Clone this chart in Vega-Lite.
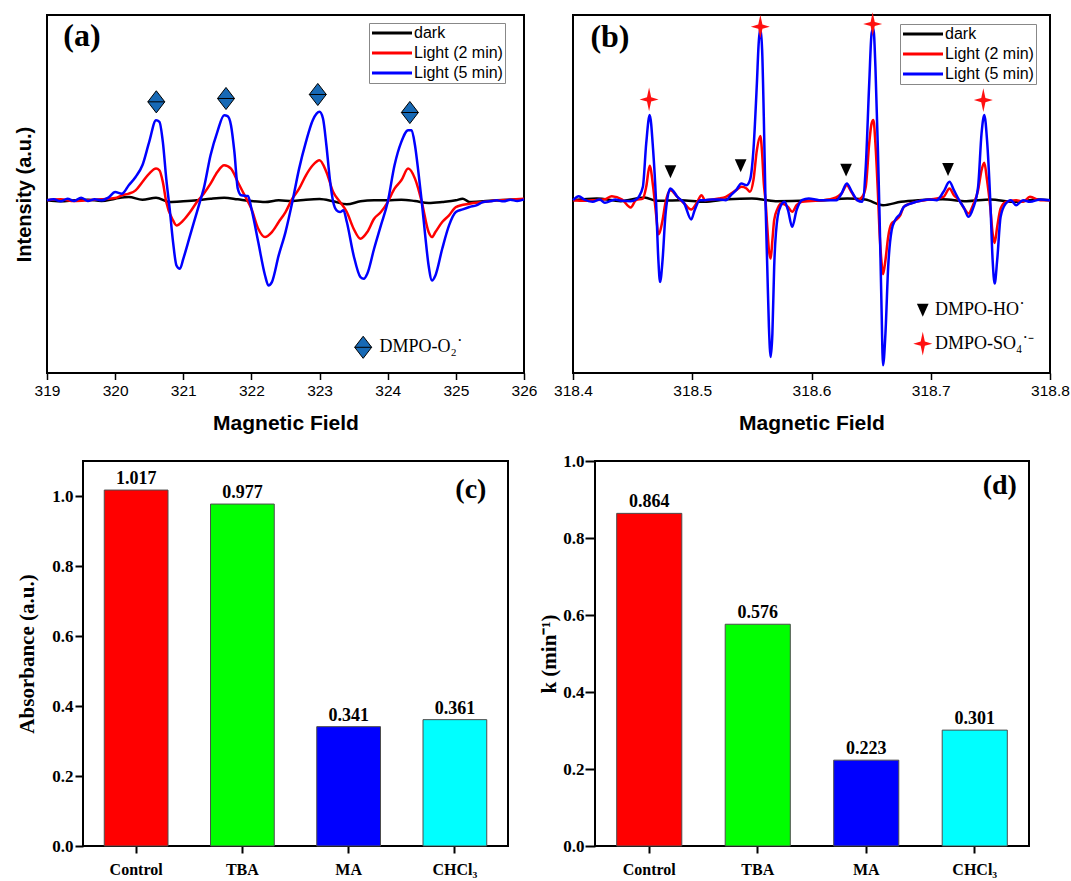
{
  "$schema": "https://vega.github.io/schema/vega-lite/v6.json",
  "background": "white",
  "padding": {"left": 5, "top": 11, "right": 0, "bottom": 0},
  "config": {
    "view": {"stroke": "black", "strokeWidth": 2},
    "axis": {"labelColor": "black", "titleColor": "black", "tickColor": "black", "grid": false, "domain": false}
  },
  "resolve": {"scale": {"color": "independent"}, "legend": {"color": "independent"}},
  "datasets": {
    "a_curves": [
      {"series": "dark", "field": 319, "intensity": 0}, {"series": "dark", "field": 319.2, "intensity": -3}, {"series": "dark", "field": 319.4, "intensity": 0}, {"series": "dark", "field": 319.6, "intensity": 2}, {"series": "dark", "field": 319.8, "intensity": -2}, {"series": "dark", "field": 320, "intensity": 5}, {"series": "dark", "field": 320.2, "intensity": 10}, {"series": "dark", "field": 320.4, "intensity": 2}, {"series": "dark", "field": 320.6, "intensity": 8}, {"series": "dark", "field": 320.8, "intensity": -5}, {"series": "dark", "field": 321, "intensity": -3}, {"series": "dark", "field": 321.2, "intensity": 0}, {"series": "dark", "field": 321.4, "intensity": 5}, {"series": "dark", "field": 321.6, "intensity": 8}, {"series": "dark", "field": 321.8, "intensity": 3}, {"series": "dark", "field": 322, "intensity": -2}, {"series": "dark", "field": 322.2, "intensity": -5}, {"series": "dark", "field": 322.4, "intensity": 0}, {"series": "dark", "field": 322.6, "intensity": -2}, {"series": "dark", "field": 322.8, "intensity": 2}, {"series": "dark", "field": 323, "intensity": 4}, {"series": "dark", "field": 323.2, "intensity": -3}, {"series": "dark", "field": 323.4, "intensity": -12}, {"series": "dark", "field": 323.6, "intensity": -3}, {"series": "dark", "field": 323.8, "intensity": 0}, {"series": "dark", "field": 324, "intensity": 0}, {"series": "dark", "field": 324.2, "intensity": 2}, {"series": "dark", "field": 324.4, "intensity": -2}, {"series": "dark", "field": 324.6, "intensity": -8}, {"series": "dark", "field": 324.8, "intensity": -5}, {"series": "dark", "field": 325, "intensity": 0}, {"series": "dark", "field": 325.1, "intensity": 5}, {"series": "dark", "field": 325.2, "intensity": -5}, {"series": "dark", "field": 325.4, "intensity": -3}, {"series": "dark", "field": 325.6, "intensity": 0}, {"series": "dark", "field": 325.8, "intensity": 2}, {"series": "dark", "field": 326, "intensity": 3},
      {"series": "Light (2 min)", "field": 319, "intensity": 0}, {"series": "Light (2 min)", "field": 319.2, "intensity": 3}, {"series": "Light (2 min)", "field": 319.4, "intensity": -2}, {"series": "Light (2 min)", "field": 319.6, "intensity": 0}, {"series": "Light (2 min)", "field": 319.8, "intensity": 3}, {"series": "Light (2 min)", "field": 320, "intensity": 7}, {"series": "Light (2 min)", "field": 320.1, "intensity": 15}, {"series": "Light (2 min)", "field": 320.2, "intensity": 20}, {"series": "Light (2 min)", "field": 320.3, "intensity": 30}, {"series": "Light (2 min)", "field": 320.4, "intensity": 55}, {"series": "Light (2 min)", "field": 320.5, "intensity": 80}, {"series": "Light (2 min)", "field": 320.6, "intensity": 95}, {"series": "Light (2 min)", "field": 320.65, "intensity": 90}, {"series": "Light (2 min)", "field": 320.7, "intensity": 55}, {"series": "Light (2 min)", "field": 320.75, "intensity": -5}, {"series": "Light (2 min)", "field": 320.85, "intensity": -60}, {"series": "Light (2 min)", "field": 320.9, "intensity": -75}, {"series": "Light (2 min)", "field": 321, "intensity": -60}, {"series": "Light (2 min)", "field": 321.1, "intensity": -35}, {"series": "Light (2 min)", "field": 321.2, "intensity": -5}, {"series": "Light (2 min)", "field": 321.3, "intensity": 20}, {"series": "Light (2 min)", "field": 321.4, "intensity": 50}, {"series": "Light (2 min)", "field": 321.5, "intensity": 85}, {"series": "Light (2 min)", "field": 321.6, "intensity": 105}, {"series": "Light (2 min)", "field": 321.7, "intensity": 95}, {"series": "Light (2 min)", "field": 321.8, "intensity": 55}, {"series": "Light (2 min)", "field": 321.9, "intensity": 15}, {"series": "Light (2 min)", "field": 322, "intensity": -25}, {"series": "Light (2 min)", "field": 322.1, "intensity": -85}, {"series": "Light (2 min)", "field": 322.2, "intensity": -110}, {"series": "Light (2 min)", "field": 322.3, "intensity": -95}, {"series": "Light (2 min)", "field": 322.4, "intensity": -65}, {"series": "Light (2 min)", "field": 322.5, "intensity": -35}, {"series": "Light (2 min)", "field": 322.6, "intensity": 5}, {"series": "Light (2 min)", "field": 322.7, "intensity": 35}, {"series": "Light (2 min)", "field": 322.8, "intensity": 75}, {"series": "Light (2 min)", "field": 322.9, "intensity": 105}, {"series": "Light (2 min)", "field": 323, "intensity": 120}, {"series": "Light (2 min)", "field": 323.1, "intensity": 85}, {"series": "Light (2 min)", "field": 323.2, "intensity": 25}, {"series": "Light (2 min)", "field": 323.3, "intensity": -5}, {"series": "Light (2 min)", "field": 323.4, "intensity": -35}, {"series": "Light (2 min)", "field": 323.5, "intensity": -85}, {"series": "Light (2 min)", "field": 323.6, "intensity": -115}, {"series": "Light (2 min)", "field": 323.7, "intensity": -95}, {"series": "Light (2 min)", "field": 323.8, "intensity": -55}, {"series": "Light (2 min)", "field": 323.9, "intensity": -35}, {"series": "Light (2 min)", "field": 324, "intensity": -5}, {"series": "Light (2 min)", "field": 324.1, "intensity": 35}, {"series": "Light (2 min)", "field": 324.2, "intensity": 60}, {"series": "Light (2 min)", "field": 324.3, "intensity": 95}, {"series": "Light (2 min)", "field": 324.4, "intensity": 65}, {"series": "Light (2 min)", "field": 324.5, "intensity": -5}, {"series": "Light (2 min)", "field": 324.6, "intensity": -95}, {"series": "Light (2 min)", "field": 324.65, "intensity": -110}, {"series": "Light (2 min)", "field": 324.7, "intensity": -95}, {"series": "Light (2 min)", "field": 324.8, "intensity": -65}, {"series": "Light (2 min)", "field": 324.9, "intensity": -45}, {"series": "Light (2 min)", "field": 325, "intensity": -20}, {"series": "Light (2 min)", "field": 325.2, "intensity": -10}, {"series": "Light (2 min)", "field": 325.4, "intensity": -5}, {"series": "Light (2 min)", "field": 325.6, "intensity": 0}, {"series": "Light (2 min)", "field": 325.8, "intensity": 2}, {"series": "Light (2 min)", "field": 326, "intensity": 5},
      {"series": "Light (5 min)", "field": 319, "intensity": 0}, {"series": "Light (5 min)", "field": 319.1, "intensity": 3}, {"series": "Light (5 min)", "field": 319.2, "intensity": -3}, {"series": "Light (5 min)", "field": 319.3, "intensity": 5}, {"series": "Light (5 min)", "field": 319.4, "intensity": -2}, {"series": "Light (5 min)", "field": 319.5, "intensity": 8}, {"series": "Light (5 min)", "field": 319.6, "intensity": -2}, {"series": "Light (5 min)", "field": 319.7, "intensity": 3}, {"series": "Light (5 min)", "field": 319.8, "intensity": 0}, {"series": "Light (5 min)", "field": 319.9, "intensity": 8}, {"series": "Light (5 min)", "field": 320, "intensity": 25}, {"series": "Light (5 min)", "field": 320.1, "intensity": 20}, {"series": "Light (5 min)", "field": 320.2, "intensity": 45}, {"series": "Light (5 min)", "field": 320.3, "intensity": 70}, {"series": "Light (5 min)", "field": 320.4, "intensity": 105}, {"series": "Light (5 min)", "field": 320.5, "intensity": 175}, {"series": "Light (5 min)", "field": 320.6, "intensity": 240}, {"series": "Light (5 min)", "field": 320.65, "intensity": 235}, {"series": "Light (5 min)", "field": 320.7, "intensity": 175}, {"series": "Light (5 min)", "field": 320.75, "intensity": 65}, {"series": "Light (5 min)", "field": 320.8, "intensity": -25}, {"series": "Light (5 min)", "field": 320.85, "intensity": -125}, {"series": "Light (5 min)", "field": 320.9, "intensity": -195}, {"series": "Light (5 min)", "field": 320.95, "intensity": -205}, {"series": "Light (5 min)", "field": 321, "intensity": -175}, {"series": "Light (5 min)", "field": 321.1, "intensity": -105}, {"series": "Light (5 min)", "field": 321.2, "intensity": -35}, {"series": "Light (5 min)", "field": 321.25, "intensity": 0}, {"series": "Light (5 min)", "field": 321.3, "intensity": 35}, {"series": "Light (5 min)", "field": 321.4, "intensity": 135}, {"series": "Light (5 min)", "field": 321.5, "intensity": 205}, {"series": "Light (5 min)", "field": 321.6, "intensity": 255}, {"series": "Light (5 min)", "field": 321.65, "intensity": 252}, {"series": "Light (5 min)", "field": 321.7, "intensity": 225}, {"series": "Light (5 min)", "field": 321.75, "intensity": 145}, {"series": "Light (5 min)", "field": 321.8, "intensity": 35}, {"series": "Light (5 min)", "field": 321.85, "intensity": 15}, {"series": "Light (5 min)", "field": 321.95, "intensity": 13}, {"series": "Light (5 min)", "field": 322, "intensity": -25}, {"series": "Light (5 min)", "field": 322.1, "intensity": -125}, {"series": "Light (5 min)", "field": 322.2, "intensity": -225}, {"series": "Light (5 min)", "field": 322.25, "intensity": -255}, {"series": "Light (5 min)", "field": 322.3, "intensity": -245}, {"series": "Light (5 min)", "field": 322.4, "intensity": -165}, {"series": "Light (5 min)", "field": 322.5, "intensity": -95}, {"series": "Light (5 min)", "field": 322.6, "intensity": -5}, {"series": "Light (5 min)", "field": 322.7, "intensity": 95}, {"series": "Light (5 min)", "field": 322.8, "intensity": 175}, {"series": "Light (5 min)", "field": 322.9, "intensity": 240}, {"series": "Light (5 min)", "field": 323, "intensity": 265}, {"series": "Light (5 min)", "field": 323.05, "intensity": 245}, {"series": "Light (5 min)", "field": 323.1, "intensity": 165}, {"series": "Light (5 min)", "field": 323.15, "intensity": 65}, {"series": "Light (5 min)", "field": 323.2, "intensity": -5}, {"series": "Light (5 min)", "field": 323.25, "intensity": -30}, {"series": "Light (5 min)", "field": 323.3, "intensity": -35}, {"series": "Light (5 min)", "field": 323.35, "intensity": -30}, {"series": "Light (5 min)", "field": 323.4, "intensity": -65}, {"series": "Light (5 min)", "field": 323.5, "intensity": -165}, {"series": "Light (5 min)", "field": 323.6, "intensity": -230}, {"series": "Light (5 min)", "field": 323.65, "intensity": -235}, {"series": "Light (5 min)", "field": 323.7, "intensity": -220}, {"series": "Light (5 min)", "field": 323.8, "intensity": -145}, {"series": "Light (5 min)", "field": 323.9, "intensity": -75}, {"series": "Light (5 min)", "field": 324, "intensity": -5}, {"series": "Light (5 min)", "field": 324.1, "intensity": 105}, {"series": "Light (5 min)", "field": 324.2, "intensity": 175}, {"series": "Light (5 min)", "field": 324.3, "intensity": 210}, {"series": "Light (5 min)", "field": 324.35, "intensity": 210}, {"series": "Light (5 min)", "field": 324.4, "intensity": 165}, {"series": "Light (5 min)", "field": 324.45, "intensity": 85}, {"series": "Light (5 min)", "field": 324.5, "intensity": -5}, {"series": "Light (5 min)", "field": 324.55, "intensity": -105}, {"series": "Light (5 min)", "field": 324.6, "intensity": -195}, {"series": "Light (5 min)", "field": 324.65, "intensity": -240}, {"series": "Light (5 min)", "field": 324.7, "intensity": -225}, {"series": "Light (5 min)", "field": 324.8, "intensity": -145}, {"series": "Light (5 min)", "field": 324.9, "intensity": -75}, {"series": "Light (5 min)", "field": 325, "intensity": -35}, {"series": "Light (5 min)", "field": 325.1, "intensity": -27}, {"series": "Light (5 min)", "field": 325.2, "intensity": -20}, {"series": "Light (5 min)", "field": 325.3, "intensity": -15}, {"series": "Light (5 min)", "field": 325.4, "intensity": -5}, {"series": "Light (5 min)", "field": 325.5, "intensity": -3}, {"series": "Light (5 min)", "field": 325.6, "intensity": 0}, {"series": "Light (5 min)", "field": 325.7, "intensity": -3}, {"series": "Light (5 min)", "field": 325.8, "intensity": 2}, {"series": "Light (5 min)", "field": 325.9, "intensity": -2}, {"series": "Light (5 min)", "field": 326, "intensity": 3}
    ],
    "a_diamonds": [
      {"field": 320.604, "intensity": 295}, {"field": 321.627, "intensity": 305}, {"field": 322.974, "intensity": 317}, {"field": 324.325, "intensity": 263}, {"field": 323.64, "intensity": -440}
    ],
    "a_notes": [{"field": 323.88, "intensity": -440, "label": "DMPO-O₂˙"}],
    "a_tag": [{"field": 319.514, "intensity": 492, "label": "(a)"}],
    "b_curves": [
      {"series": "dark", "field": 318.4, "intensity": 0}, {"series": "dark", "field": 318.42, "intensity": 5}, {"series": "dark", "field": 318.44, "intensity": -3}, {"series": "dark", "field": 318.46, "intensity": 8}, {"series": "dark", "field": 318.47, "intensity": -2}, {"series": "dark", "field": 318.49, "intensity": 0}, {"series": "dark", "field": 318.51, "intensity": -5}, {"series": "dark", "field": 318.53, "intensity": 3}, {"series": "dark", "field": 318.55, "intensity": 5}, {"series": "dark", "field": 318.57, "intensity": -3}, {"series": "dark", "field": 318.59, "intensity": -2}, {"series": "dark", "field": 318.61, "intensity": 0}, {"series": "dark", "field": 318.63, "intensity": 5}, {"series": "dark", "field": 318.645, "intensity": 2}, {"series": "dark", "field": 318.66, "intensity": -15}, {"series": "dark", "field": 318.675, "intensity": -5}, {"series": "dark", "field": 318.69, "intensity": 0}, {"series": "dark", "field": 318.71, "intensity": 3}, {"series": "dark", "field": 318.73, "intensity": -3}, {"series": "dark", "field": 318.75, "intensity": 2}, {"series": "dark", "field": 318.77, "intensity": -5}, {"series": "dark", "field": 318.79, "intensity": 2}, {"series": "dark", "field": 318.8, "intensity": 0},
      {"series": "Light (2 min)", "field": 318.4, "intensity": 0}, {"series": "Light (2 min)", "field": 318.4093, "intensity": -2}, {"series": "Light (2 min)", "field": 318.4165, "intensity": 0}, {"series": "Light (2 min)", "field": 318.4267, "intensity": 3}, {"series": "Light (2 min)", "field": 318.4325, "intensity": 12}, {"series": "Light (2 min)", "field": 318.4412, "intensity": 2}, {"series": "Light (2 min)", "field": 318.4484, "intensity": -22}, {"series": "Light (2 min)", "field": 318.4528, "intensity": 0}, {"series": "Light (2 min)", "field": 318.4586, "intensity": 5}, {"series": "Light (2 min)", "field": 318.4614, "intensity": 40}, {"series": "Light (2 min)", "field": 318.4643, "intensity": 103}, {"series": "Light (2 min)", "field": 318.4672, "intensity": 40}, {"series": "Light (2 min)", "field": 318.4696, "intensity": -40}, {"series": "Light (2 min)", "field": 318.4716, "intensity": -102}, {"series": "Light (2 min)", "field": 318.4751, "intensity": -60}, {"series": "Light (2 min)", "field": 318.4774, "intensity": -10}, {"series": "Light (2 min)", "field": 318.4817, "intensity": 30}, {"series": "Light (2 min)", "field": 318.4875, "intensity": 10}, {"series": "Light (2 min)", "field": 318.4933, "intensity": -10}, {"series": "Light (2 min)", "field": 318.4991, "intensity": -28}, {"series": "Light (2 min)", "field": 318.5035, "intensity": -10}, {"series": "Light (2 min)", "field": 318.5078, "intensity": 15}, {"series": "Light (2 min)", "field": 318.5107, "intensity": 0}, {"series": "Light (2 min)", "field": 318.5223, "intensity": 5}, {"series": "Light (2 min)", "field": 318.5281, "intensity": 10}, {"series": "Light (2 min)", "field": 318.5368, "intensity": 30}, {"series": "Light (2 min)", "field": 318.5412, "intensity": 40}, {"series": "Light (2 min)", "field": 318.5455, "intensity": 35}, {"series": "Light (2 min)", "field": 318.5484, "intensity": 25}, {"series": "Light (2 min)", "field": 318.5513, "intensity": 60}, {"series": "Light (2 min)", "field": 318.5542, "intensity": 150}, {"series": "Light (2 min)", "field": 318.5571, "intensity": 192}, {"series": "Light (2 min)", "field": 318.5586, "intensity": 140}, {"series": "Light (2 min)", "field": 318.56, "intensity": 50}, {"series": "Light (2 min)", "field": 318.5614, "intensity": 0}, {"series": "Light (2 min)", "field": 318.5629, "intensity": -80}, {"series": "Light (2 min)", "field": 318.5643, "intensity": -150}, {"series": "Light (2 min)", "field": 318.5658, "intensity": -175}, {"series": "Light (2 min)", "field": 318.5672, "intensity": -120}, {"series": "Light (2 min)", "field": 318.5687, "intensity": -60}, {"series": "Light (2 min)", "field": 318.5716, "intensity": -25}, {"series": "Light (2 min)", "field": 318.5745, "intensity": -10}, {"series": "Light (2 min)", "field": 318.5803, "intensity": -20}, {"series": "Light (2 min)", "field": 318.5838, "intensity": -35}, {"series": "Light (2 min)", "field": 318.5875, "intensity": -15}, {"series": "Light (2 min)", "field": 318.5919, "intensity": -5}, {"series": "Light (2 min)", "field": 318.6151, "intensity": 2}, {"series": "Light (2 min)", "field": 318.6252, "intensity": 20}, {"series": "Light (2 min)", "field": 318.6296, "intensity": 45}, {"series": "Light (2 min)", "field": 318.6339, "intensity": 22}, {"series": "Light (2 min)", "field": 318.6383, "intensity": 0}, {"series": "Light (2 min)", "field": 318.6426, "intensity": 10}, {"series": "Light (2 min)", "field": 318.6455, "intensity": 40}, {"series": "Light (2 min)", "field": 318.6484, "intensity": 170}, {"series": "Light (2 min)", "field": 318.6504, "intensity": 230}, {"series": "Light (2 min)", "field": 318.6519, "intensity": 240}, {"series": "Light (2 min)", "field": 318.6536, "intensity": 170}, {"series": "Light (2 min)", "field": 318.6557, "intensity": 20}, {"series": "Light (2 min)", "field": 318.6571, "intensity": -100}, {"series": "Light (2 min)", "field": 318.6586, "intensity": -180}, {"series": "Light (2 min)", "field": 318.66, "intensity": -222}, {"series": "Light (2 min)", "field": 318.662, "intensity": -180}, {"series": "Light (2 min)", "field": 318.6643, "intensity": -110}, {"series": "Light (2 min)", "field": 318.6672, "intensity": -70}, {"series": "Light (2 min)", "field": 318.6701, "intensity": -62}, {"series": "Light (2 min)", "field": 318.6745, "intensity": -45}, {"series": "Light (2 min)", "field": 318.6774, "intensity": -20}, {"series": "Light (2 min)", "field": 318.6875, "intensity": -5}, {"series": "Light (2 min)", "field": 318.6991, "intensity": 2}, {"series": "Light (2 min)", "field": 318.7107, "intensity": 10}, {"series": "Light (2 min)", "field": 318.7157, "intensity": 35}, {"series": "Light (2 min)", "field": 318.7194, "intensity": 15}, {"series": "Light (2 min)", "field": 318.7238, "intensity": 0}, {"series": "Light (2 min)", "field": 318.7281, "intensity": -25}, {"series": "Light (2 min)", "field": 318.7316, "intensity": -40}, {"series": "Light (2 min)", "field": 318.7354, "intensity": -15}, {"series": "Light (2 min)", "field": 318.7397, "intensity": 30}, {"series": "Light (2 min)", "field": 318.7426, "intensity": 90}, {"series": "Light (2 min)", "field": 318.7449, "intensity": 112}, {"series": "Light (2 min)", "field": 318.7472, "intensity": 60}, {"series": "Light (2 min)", "field": 318.7499, "intensity": -20}, {"series": "Light (2 min)", "field": 318.7519, "intensity": -100}, {"series": "Light (2 min)", "field": 318.7536, "intensity": -128}, {"series": "Light (2 min)", "field": 318.7557, "intensity": -80}, {"series": "Light (2 min)", "field": 318.7586, "intensity": -25}, {"series": "Light (2 min)", "field": 318.7629, "intensity": -5}, {"series": "Light (2 min)", "field": 318.7716, "intensity": 0}, {"series": "Light (2 min)", "field": 318.7774, "intensity": -5}, {"series": "Light (2 min)", "field": 318.7832, "intensity": 10}, {"series": "Light (2 min)", "field": 318.7919, "intensity": 0}, {"series": "Light (2 min)", "field": 318.8, "intensity": 0},
      {"series": "Light (5 min)", "field": 318.4, "intensity": 0}, {"series": "Light (5 min)", "field": 318.4049, "intensity": 12}, {"series": "Light (5 min)", "field": 318.4093, "intensity": 2}, {"series": "Light (5 min)", "field": 318.4165, "intensity": -5}, {"series": "Light (5 min)", "field": 318.4223, "intensity": 2}, {"series": "Light (5 min)", "field": 318.4267, "intensity": -8}, {"series": "Light (5 min)", "field": 318.4354, "intensity": 2}, {"series": "Light (5 min)", "field": 318.4412, "intensity": -2}, {"series": "Light (5 min)", "field": 318.4484, "intensity": -3}, {"series": "Light (5 min)", "field": 318.4528, "intensity": 2}, {"series": "Light (5 min)", "field": 318.4551, "intensity": 10}, {"series": "Light (5 min)", "field": 318.4586, "intensity": 40}, {"series": "Light (5 min)", "field": 318.4614, "intensity": 170}, {"series": "Light (5 min)", "field": 318.4643, "intensity": 255}, {"series": "Light (5 min)", "field": 318.4672, "intensity": 150}, {"series": "Light (5 min)", "field": 318.4696, "intensity": 0}, {"series": "Light (5 min)", "field": 318.4716, "intensity": -180}, {"series": "Light (5 min)", "field": 318.473, "intensity": -245}, {"series": "Light (5 min)", "field": 318.4751, "intensity": -180}, {"series": "Light (5 min)", "field": 318.4774, "intensity": -50}, {"series": "Light (5 min)", "field": 318.4794, "intensity": 10}, {"series": "Light (5 min)", "field": 318.4817, "intensity": 35}, {"series": "Light (5 min)", "field": 318.4846, "intensity": 25}, {"series": "Light (5 min)", "field": 318.4875, "intensity": 10}, {"series": "Light (5 min)", "field": 318.4933, "intensity": -10}, {"series": "Light (5 min)", "field": 318.4991, "intensity": -58}, {"series": "Light (5 min)", "field": 318.502, "intensity": -30}, {"series": "Light (5 min)", "field": 318.5064, "intensity": 0}, {"series": "Light (5 min)", "field": 318.5107, "intensity": 0}, {"series": "Light (5 min)", "field": 318.5165, "intensity": 2}, {"series": "Light (5 min)", "field": 318.5223, "intensity": 2}, {"series": "Light (5 min)", "field": 318.5281, "intensity": 0}, {"series": "Light (5 min)", "field": 318.5325, "intensity": 15}, {"series": "Light (5 min)", "field": 318.5368, "intensity": 30}, {"series": "Light (5 min)", "field": 318.5412, "intensity": 50}, {"series": "Light (5 min)", "field": 318.5455, "intensity": 45}, {"series": "Light (5 min)", "field": 318.5484, "intensity": 60}, {"series": "Light (5 min)", "field": 318.5513, "intensity": 150}, {"series": "Light (5 min)", "field": 318.5542, "intensity": 350}, {"series": "Light (5 min)", "field": 318.5557, "intensity": 470}, {"series": "Light (5 min)", "field": 318.5571, "intensity": 515}, {"series": "Light (5 min)", "field": 318.5586, "intensity": 450}, {"series": "Light (5 min)", "field": 318.56, "intensity": 250}, {"series": "Light (5 min)", "field": 318.5614, "intensity": 0}, {"series": "Light (5 min)", "field": 318.5629, "intensity": -200}, {"series": "Light (5 min)", "field": 318.5643, "intensity": -380}, {"series": "Light (5 min)", "field": 318.5658, "intensity": -470}, {"series": "Light (5 min)", "field": 318.5672, "intensity": -400}, {"series": "Light (5 min)", "field": 318.5687, "intensity": -200}, {"series": "Light (5 min)", "field": 318.5716, "intensity": -50}, {"series": "Light (5 min)", "field": 318.5745, "intensity": -15}, {"series": "Light (5 min)", "field": 318.5774, "intensity": -5}, {"series": "Light (5 min)", "field": 318.5803, "intensity": -30}, {"series": "Light (5 min)", "field": 318.5838, "intensity": -80}, {"series": "Light (5 min)", "field": 318.5875, "intensity": -30}, {"series": "Light (5 min)", "field": 318.5919, "intensity": 0}, {"series": "Light (5 min)", "field": 318.5977, "intensity": 5}, {"series": "Light (5 min)", "field": 318.6064, "intensity": 0}, {"series": "Light (5 min)", "field": 318.6151, "intensity": 0}, {"series": "Light (5 min)", "field": 318.6209, "intensity": 0}, {"series": "Light (5 min)", "field": 318.6252, "intensity": 20}, {"series": "Light (5 min)", "field": 318.6296, "intensity": 50}, {"series": "Light (5 min)", "field": 318.6339, "intensity": 25}, {"series": "Light (5 min)", "field": 318.6383, "intensity": 0}, {"series": "Light (5 min)", "field": 318.6426, "intensity": -5}, {"series": "Light (5 min)", "field": 318.6455, "intensity": 100}, {"series": "Light (5 min)", "field": 318.6484, "intensity": 350}, {"series": "Light (5 min)", "field": 318.6504, "intensity": 500}, {"series": "Light (5 min)", "field": 318.6519, "intensity": 515}, {"series": "Light (5 min)", "field": 318.6536, "intensity": 400}, {"series": "Light (5 min)", "field": 318.6557, "intensity": 150}, {"series": "Light (5 min)", "field": 318.6571, "intensity": -50}, {"series": "Light (5 min)", "field": 318.6586, "intensity": -300}, {"series": "Light (5 min)", "field": 318.66, "intensity": -495}, {"series": "Light (5 min)", "field": 318.662, "intensity": -400}, {"series": "Light (5 min)", "field": 318.6643, "intensity": -200}, {"series": "Light (5 min)", "field": 318.6672, "intensity": -90}, {"series": "Light (5 min)", "field": 318.6701, "intensity": -60}, {"series": "Light (5 min)", "field": 318.6745, "intensity": -40}, {"series": "Light (5 min)", "field": 318.6774, "intensity": -20}, {"series": "Light (5 min)", "field": 318.6817, "intensity": -12}, {"series": "Light (5 min)", "field": 318.6875, "intensity": -5}, {"series": "Light (5 min)", "field": 318.6933, "intensity": 0}, {"series": "Light (5 min)", "field": 318.6991, "intensity": 2}, {"series": "Light (5 min)", "field": 318.7049, "intensity": 0}, {"series": "Light (5 min)", "field": 318.7107, "intensity": 25}, {"series": "Light (5 min)", "field": 318.7157, "intensity": 55}, {"series": "Light (5 min)", "field": 318.7194, "intensity": 30}, {"series": "Light (5 min)", "field": 318.7238, "intensity": 0}, {"series": "Light (5 min)", "field": 318.7281, "intensity": -25}, {"series": "Light (5 min)", "field": 318.7316, "intensity": -50}, {"series": "Light (5 min)", "field": 318.7354, "intensity": -25}, {"series": "Light (5 min)", "field": 318.7397, "intensity": 40}, {"series": "Light (5 min)", "field": 318.7426, "intensity": 200}, {"series": "Light (5 min)", "field": 318.7449, "intensity": 255}, {"series": "Light (5 min)", "field": 318.7472, "intensity": 180}, {"series": "Light (5 min)", "field": 318.7499, "intensity": 0}, {"series": "Light (5 min)", "field": 318.7519, "intensity": -180}, {"series": "Light (5 min)", "field": 318.7536, "intensity": -250}, {"series": "Light (5 min)", "field": 318.7557, "intensity": -180}, {"series": "Light (5 min)", "field": 318.7586, "intensity": -50}, {"series": "Light (5 min)", "field": 318.7629, "intensity": -10}, {"series": "Light (5 min)", "field": 318.7672, "intensity": 0}, {"series": "Light (5 min)", "field": 318.7716, "intensity": -15}, {"series": "Light (5 min)", "field": 318.7774, "intensity": 0}, {"series": "Light (5 min)", "field": 318.7832, "intensity": -5}, {"series": "Light (5 min)", "field": 318.7919, "intensity": 2}, {"series": "Light (5 min)", "field": 318.8, "intensity": 0}
    ],
    "b_stars": [
      {"field": 318.4638, "intensity": 302}, {"field": 318.5571, "intensity": 520}, {"field": 318.6513, "intensity": 528}, {"field": 318.7441, "intensity": 300}, {"field": 318.6933, "intensity": -430}
    ],
    "b_triangles": [
      {"field": 318.4817, "intensity": 85}, {"field": 318.5406, "intensity": 103}, {"field": 318.629, "intensity": 90}, {"field": 318.7145, "intensity": 92}, {"field": 318.6933, "intensity": -330}
    ],
    "b_notes": [
      {"field": 318.7035, "intensity": -330, "label": "DMPO-HO˙"},
      {"field": 318.7035, "intensity": -430, "label": "DMPO-SO₄˙⁻"}
    ],
    "b_tag": [{"field": 318.431, "intensity": 488, "label": "(b)"}],
    "bars_c": [
      {"scavenger": "Control", "value": 1.017}, {"scavenger": "TBA", "value": 0.977}, {"scavenger": "MA", "value": 0.341}, {"scavenger": "CHCl₃", "value": 0.361}
    ],
    "c_tag": [{"scavenger": "CHCl₃", "value": 1.017, "label": "(c)"}],
    "bars_d": [
      {"scavenger": "Control", "value": 0.864}, {"scavenger": "TBA", "value": 0.576}, {"scavenger": "MA", "value": 0.223}, {"scavenger": "CHCl₃", "value": 0.301}
    ],
    "d_tag": [{"scavenger": "CHCl₃", "value": 0.936, "label": "(d)"}],
    "empty": []
  },
  "spacing": 17,
  "vconcat": [
    {
      "spacing": 0,
      "align": "none",
      "resolve": {"scale": {"color": "independent"}, "legend": {"color": "independent"}},
      "hconcat": [
        {"width": 8, "height": 1, "data": {"name": "empty"}, "mark": "point", "view": {"stroke": null, "fill": null}},
        {
          "spacing": 14,
          "align": "none",
          "resolve": {"scale": {"color": "independent"}, "legend": {"color": "independent"}},
          "hconcat": [
            {
              "width": 477, "height": 358,
              "layer": [
                {
                  "data": {"name": "a_curves"},
                  "mark": {"type": "line", "interpolate": "monotone", "strokeWidth": 2.5},
                  "encoding": {
                    "x": {"field": "field", "type": "quantitative", "scale": {"domain": [319, 326], "nice": false, "zero": false},
                      "axis": {"title": "Magnetic Field", "values": [319, 320, 321, 322, 323, 324, 325, 326], "format": "d", "labelFlush": false,
                        "labelFont": "Liberation Sans", "labelFontSize": 15.5, "labelPadding": 4, "tickSize": 6.5, "tickWidth": 1.5,
                        "titleFont": "Liberation Sans", "titleFontWeight": "bold", "titleFontSize": 21, "titlePadding": 13}},
                    "y": {"field": "intensity", "type": "quantitative", "scale": {"domain": [-517, 555], "nice": false, "zero": false},
                      "axis": {"title": "Intensity (a.u.)", "labels": false, "ticks": false, "titleFont": "Liberation Sans", "titleFontWeight": "bold", "titleFontSize": 20, "titlePadding": 13}},
                    "color": {"field": "series", "type": "nominal",
                      "scale": {"domain": ["dark", "Light (2 min)", "Light (5 min)"], "range": ["#000000", "#ff0000", "#0000ff"]},
                      "legend": {"orient": "none", "legendX": 322, "legendY": 8, "title": null, "symbolType": "M-4,0L4,0", "symbolSize": 100, "symbolStrokeWidth": 3, "symbolOffset": 13,
                        "labelFont": "Liberation Sans", "labelFontSize": 16, "labelColor": "black", "labelOffset": 14, "strokeColor": "#888888", "fillColor": "white", "padding": 2, "rowPadding": 4}}
                  }
                },
                {
                  "data": {"name": "a_diamonds"},
                  "mark": {"type": "point", "shape": "M0,-1.3L1,0L0,1.3L-1,0Z M-1,0L1,0", "size": 289, "filled": true, "fill": "#1769b5", "stroke": "black", "strokeWidth": 1, "opacity": 1},
                  "encoding": {"x": {"field": "field", "type": "quantitative"}, "y": {"field": "intensity", "type": "quantitative"}}
                },
                {
                  "data": {"name": "a_notes"},
                  "mark": {"type": "text", "align": "left", "baseline": "middle", "font": "Liberation Serif", "fontSize": 18, "color": "black"},
                  "encoding": {"x": {"field": "field", "type": "quantitative"}, "y": {"field": "intensity", "type": "quantitative"}, "text": {"field": "label"}}
                },
                {
                  "data": {"name": "a_tag"},
                  "mark": {"type": "text", "align": "center", "baseline": "middle", "font": "Liberation Serif", "fontWeight": "bold", "fontSize": 32, "color": "black"},
                  "encoding": {"x": {"field": "field", "type": "quantitative"}, "y": {"field": "intensity", "type": "quantitative"}, "text": {"field": "label"}}
                }
              ]
            },
            {
              "width": 477, "height": 358,
              "layer": [
                {
                  "data": {"name": "b_curves"},
                  "mark": {"type": "line", "interpolate": "monotone", "strokeWidth": 2.5},
                  "encoding": {
                    "x": {"field": "field", "type": "quantitative", "scale": {"domain": [318.4, 318.8], "nice": false, "zero": false},
                      "axis": {"title": "Magnetic Field", "values": [318.4, 318.5, 318.6, 318.7, 318.8], "format": ".1f", "labelFlush": false,
                        "labelFont": "Liberation Sans", "labelFontSize": 15.5, "labelPadding": 4, "tickSize": 6.5, "tickWidth": 1.5,
                        "titleFont": "Liberation Sans", "titleFontWeight": "bold", "titleFontSize": 21, "titlePadding": 13}},
                    "y": {"field": "intensity", "type": "quantitative", "scale": {"domain": [-518, 555], "nice": false, "zero": false}, "axis": null},
                    "color": {"field": "series", "type": "nominal",
                      "scale": {"domain": ["dark", "Light (2 min)", "Light (5 min)"], "range": ["#000000", "#ff0000", "#0000ff"]},
                      "legend": {"orient": "none", "legendX": 327, "legendY": 9, "title": null, "symbolType": "M-4,0L4,0", "symbolSize": 100, "symbolStrokeWidth": 3, "symbolOffset": 13,
                        "labelFont": "Liberation Sans", "labelFontSize": 16, "labelColor": "black", "labelOffset": 14, "strokeColor": "#888888", "fillColor": "white", "padding": 2, "rowPadding": 4}}
                  }
                },
                {
                  "data": {"name": "b_stars"},
                  "mark": {"type": "point", "shape": "M0,-1.25L0.22,-0.22L1,0L0.22,0.22L0,1.25L-0.22,0.22L-1,0L-0.22,-0.22Z", "size": 361, "filled": true, "fill": "#ff1010", "strokeWidth": 0, "opacity": 1},
                  "encoding": {"x": {"field": "field", "type": "quantitative"}, "y": {"field": "intensity", "type": "quantitative"}}
                },
                {
                  "data": {"name": "b_triangles"},
                  "mark": {"type": "point", "shape": "M-1,-1.1L1,-1.1L0,1.1Z", "size": 137, "filled": true, "fill": "black", "strokeWidth": 0, "opacity": 1},
                  "encoding": {"x": {"field": "field", "type": "quantitative"}, "y": {"field": "intensity", "type": "quantitative"}}
                },
                {
                  "data": {"name": "b_notes"},
                  "mark": {"type": "text", "align": "left", "baseline": "middle", "font": "Liberation Serif", "fontSize": 18, "color": "black"},
                  "encoding": {"x": {"field": "field", "type": "quantitative"}, "y": {"field": "intensity", "type": "quantitative"}, "text": {"field": "label"}}
                },
                {
                  "data": {"name": "b_tag"},
                  "mark": {"type": "text", "align": "center", "baseline": "middle", "font": "Liberation Serif", "fontWeight": "bold", "fontSize": 32, "color": "black"},
                  "encoding": {"x": {"field": "field", "type": "quantitative"}, "y": {"field": "intensity", "type": "quantitative"}, "text": {"field": "label"}}
                }
              ]
            }
          ]
        }
      ]
    },
    {
      "spacing": 0,
      "align": "none",
      "resolve": {"scale": {"color": "independent"}, "legend": {"color": "independent"}},
      "hconcat": [
        {"width": 10, "height": 1, "data": {"name": "empty"}, "mark": "point", "view": {"stroke": null, "fill": null}},
        {
          "spacing": 28,
          "align": "none",
          "resolve": {"scale": {"color": "independent"}, "legend": {"color": "independent"}},
          "hconcat": [
            {
              "width": 425, "height": 385,
              "layer": [
                {
                  "data": {"name": "bars_c"},
                  "mark": {"type": "bar", "stroke": "#4d4d4d", "strokeWidth": 1},
                  "encoding": {
                    "x": {"field": "scavenger", "type": "nominal", "sort": null,
                      "scale": {"domain": ["Control", "TBA", "MA", "CHCl₃"], "paddingInner": 0.4, "paddingOuter": 0.2},
                      "axis": {"title": null, "labelAngle": 0, "labelFont": "Liberation Serif", "labelFontWeight": "bold", "labelFontSize": 16, "labelPadding": 8, "tickSize": 7, "tickWidth": 2}},
                    "y": {"field": "value", "type": "quantitative", "scale": {"domain": [0, 1.1], "nice": false},
                      "axis": {"title": "Absorbance (a.u.)", "values": [0, 0.2, 0.4, 0.6, 0.8, 1.0], "format": ".1f",
                        "labelFont": "Liberation Serif", "labelFontWeight": "bold", "labelFontSize": 17, "labelPadding": 2, "tickSize": 8, "tickWidth": 2,
                        "titleFont": "Liberation Serif", "titleFontWeight": "bold", "titleFontSize": 21, "titlePadding": 14}},
                    "color": {"field": "scavenger", "type": "nominal", "scale": {"domain": ["Control", "TBA", "MA", "CHCl₃"], "range": ["#ff0000", "#00ff00", "#0000ff", "#00ffff"]}, "legend": null}
                  }
                },
                {
                  "data": {"name": "bars_c"},
                  "mark": {"type": "text", "baseline": "alphabetic", "dy": -6, "font": "Liberation Serif", "fontWeight": "bold", "fontSize": 18, "color": "black"},
                  "encoding": {"x": {"field": "scavenger", "type": "nominal", "sort": null}, "y": {"field": "value", "type": "quantitative"}, "text": {"field": "value", "type": "quantitative", "format": ".3f"}}
                },
                {
                  "data": {"name": "c_tag"},
                  "mark": {"type": "text", "baseline": "middle", "dx": 16, "font": "Liberation Serif", "fontWeight": "bold", "fontSize": 28, "color": "black"},
                  "encoding": {"x": {"field": "scavenger", "type": "nominal", "sort": null}, "y": {"field": "value", "type": "quantitative"}, "text": {"field": "label"}}
                }
              ]
            },
            {
              "width": 434, "height": 385,
              "layer": [
                {
                  "data": {"name": "bars_d"},
                  "mark": {"type": "bar", "stroke": "#4d4d4d", "strokeWidth": 1},
                  "encoding": {
                    "x": {"field": "scavenger", "type": "nominal", "sort": null,
                      "scale": {"domain": ["Control", "TBA", "MA", "CHCl₃"], "paddingInner": 0.4, "paddingOuter": 0.2},
                      "axis": {"title": null, "labelAngle": 0, "labelFont": "Liberation Serif", "labelFontWeight": "bold", "labelFontSize": 16, "labelPadding": 8, "tickSize": 7, "tickWidth": 2}},
                    "y": {"field": "value", "type": "quantitative", "scale": {"domain": [0, 1.0], "nice": false},
                      "axis": {"title": "k (min⁻¹)", "values": [0, 0.2, 0.4, 0.6, 0.8, 1.0], "format": ".1f",
                        "labelFont": "Liberation Serif", "labelFontWeight": "bold", "labelFontSize": 17, "labelPadding": 1, "tickSize": 10, "tickWidth": 2,
                        "titleFont": "Liberation Serif", "titleFontWeight": "bold", "titleFontSize": 21, "titlePadding": 3}},
                    "color": {"field": "scavenger", "type": "nominal", "scale": {"domain": ["Control", "TBA", "MA", "CHCl₃"], "range": ["#ff0000", "#00ff00", "#0000ff", "#00ffff"]}, "legend": null}
                  }
                },
                {
                  "data": {"name": "bars_d"},
                  "mark": {"type": "text", "baseline": "alphabetic", "dy": -6, "font": "Liberation Serif", "fontWeight": "bold", "fontSize": 18, "color": "black"},
                  "encoding": {"x": {"field": "scavenger", "type": "nominal", "sort": null}, "y": {"field": "value", "type": "quantitative"}, "text": {"field": "value", "type": "quantitative", "format": ".3f"}}
                },
                {
                  "data": {"name": "d_tag"},
                  "mark": {"type": "text", "baseline": "middle", "dx": 25, "font": "Liberation Serif", "fontWeight": "bold", "fontSize": 28, "color": "black"},
                  "encoding": {"x": {"field": "scavenger", "type": "nominal", "sort": null}, "y": {"field": "value", "type": "quantitative"}, "text": {"field": "label"}}
                }
              ]
            }
          ]
        }
      ]
    }
  ]
}
